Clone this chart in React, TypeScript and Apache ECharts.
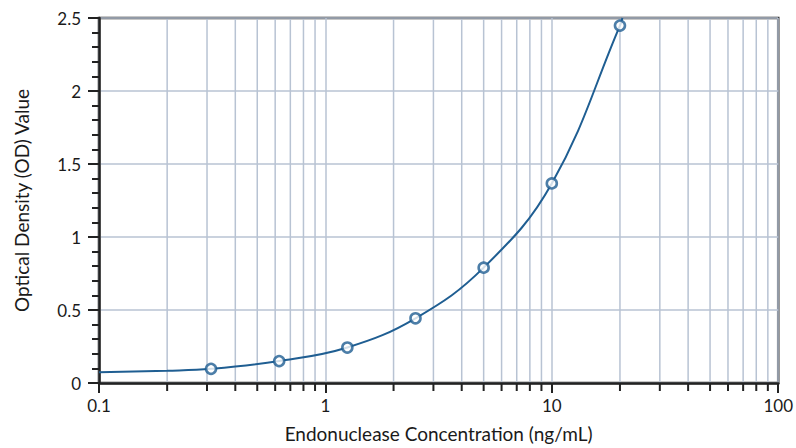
import React, { useEffect, useRef } from "react";
import * as echarts from "echarts";

const concentrations = [0.3125, 0.625, 1.25, 2.5, 5, 10, 20];
const odValues = [0.097, 0.15, 0.243, 0.443, 0.79, 1.367, 2.448];

const curveX = [0.1, 0.2, 0.3125, 0.625, 1.25, 2.5, 5, 10, 20, 20.5];
const curveY = [0.073, 0.084, 0.097, 0.15, 0.243, 0.443, 0.79, 1.367, 2.448, 2.5];

const minorXTicks = [0.2, 0.3, 0.4, 0.5, 0.6, 0.7, 0.8, 0.9, 2, 3, 4, 5, 6, 7, 8, 9, 20, 30, 40, 50, 60, 70, 80, 90];

const xName = "Endonuclease Concentration (ng/mL)";
const yName = "Optical Density (OD) Value";

const AXIS = "#222222";
const GRID = "#b8c3d3";
const BLUE = "#1f5e92";
const FONT = "Lato, 'Open Sans', sans-serif";

export default function App() {
  const ref = useRef<HTMLDivElement>(null);
  useEffect(() => {
    if (!ref.current) return;
    const chart = echarts.init(ref.current, null, { renderer: "svg" });
    chart.setOption({
      animation: false,
      backgroundColor: "#ffffff",
      grid: {
        left: 99,
        right: 17,
        top: 18,
        bottom: 63,
        show: true,
        borderColor: AXIS,
        borderWidth: 2.5,
        backgroundColor: "transparent",
      },
      xAxis: {
        type: "log",
        logBase: 10,
        min: 0.1,
        max: 100,
        name: xName,
        nameLocation: "middle",
        nameGap: 41,
        nameTextStyle: { fontFamily: FONT, fontSize: 19, color: "#1a1a1a" },
        axisLine: { show: true, lineStyle: { color: AXIS, width: 2.5 } },
        axisTick: { show: true, length: 10, lineStyle: { color: AXIS, width: 2 } },
        axisLabel: { fontFamily: FONT, fontSize: 17, color: "#1a1a1a", margin: 14 },
        splitLine: { show: true, lineStyle: { color: GRID, width: 1.5 } },
        minorTick: { show: false },
      },
      yAxis: {
        type: "value",
        min: 0,
        max: 2.5,
        interval: 0.5,
        name: yName,
        nameLocation: "middle",
        nameGap: 68,
        nameTextStyle: { fontFamily: FONT, fontSize: 19, color: "#1a1a1a" },
        axisLine: { show: true, lineStyle: { color: AXIS, width: 2.5 } },
        axisTick: { show: true, length: 11, lineStyle: { color: AXIS, width: 2 } },
        minorTick: { show: true, splitNumber: 5, length: 7, lineStyle: { color: AXIS, width: 2 } },
        axisLabel: { fontFamily: FONT, fontSize: 17, color: "#1a1a1a", margin: 18 },
        splitLine: { show: true, lineStyle: { color: GRID, width: 1.5 } },
      },
      series: [
        {
          type: "custom",
          z: 1,
          silent: true,
          clip: false,
          encode: { x: 0, y: 1 },
          data: minorXTicks.map((v) => [v, 0]),
          renderItem: (params: any, api: any) => {
            const x = api.coord([api.value(0), 0])[0];
            const cs = params.coordSys;
            const top = cs.y;
            const bottom = cs.y + cs.height;
            return {
              type: "group",
              children: [
                {
                  type: "line",
                  shape: { x1: x, y1: top + 1, x2: x, y2: bottom - 1 },
                  style: { stroke: GRID, lineWidth: 1.5 },
                },
                {
                  type: "line",
                  shape: { x1: x, y1: bottom, x2: x, y2: bottom + 8 },
                  style: { stroke: AXIS, lineWidth: 2 },
                },
              ],
            };
          },
        },
        {
          type: "line",
          z: 3,
          data: curveX.map((x, i) => [x, curveY[i]]),
          smooth: 0.4,
          showSymbol: false,
          symbol: "none",
          lineStyle: { color: BLUE, width: 2 },
          clip: true,
        },
        {
          type: "scatter",
          z: 4,
          data: concentrations.map((x, i) => [x, odValues[i]]),
          symbol: "circle",
          symbolSize: 10,
          itemStyle: { color: "#ffffff", borderColor: BLUE, borderWidth: 2.6 },
        },
      ],
    });
    return () => chart.dispose();
  }, []);
  return (
    <div
      ref={ref}
      style={{ position: "fixed", left: 0, top: 0, width: 796, height: 448, background: "#fff" }}
    />
  );
}
